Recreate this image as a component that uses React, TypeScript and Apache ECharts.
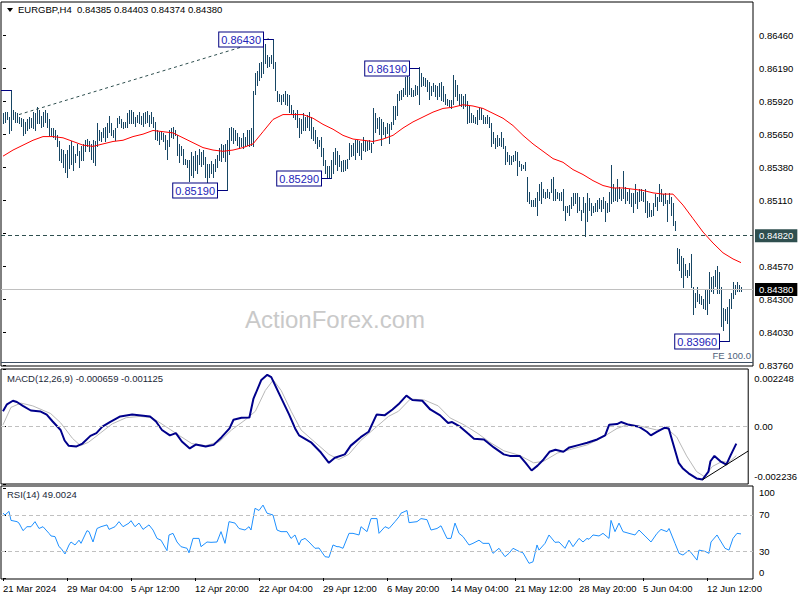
import React, { useEffect, useRef } from 'react';
import * as echarts from 'echarts';

const FONT = '"Liberation Sans", Arial, sans-serif';

// ---------- header / indicator values ----------
const symbolName = 'EURGBP,H4';
const lastOHLC = ['0.84385', '0.84403', '0.84374', '0.84380'];
const macdTitle = 'MACD(12,26,9) -0.000659 -0.001125';
const rsiTitle = 'RSI(14) 49.0024';
const watermark = 'ActionForex.com';

// ---------- price bars (H4), index 0 = 21 Mar 2024 ----------
const highs = [
  0.8582, 0.8583, 0.8583, 0.8579, 0.8601, 0.8585, 0.8583, 0.8582, 0.8579, 0.8578,
  0.8577, 0.8575, 0.8577, 0.8579, 0.8578, 0.8583, 0.8582, 0.8587, 0.8585, 0.8580,
  0.8583, 0.8585, 0.8582, 0.8577, 0.8570, 0.8570, 0.8568, 0.8564, 0.8559, 0.8553,
  0.8552, 0.8549, 0.8552, 0.8556, 0.8559, 0.8555, 0.8549, 0.8557, 0.8551, 0.8555,
  0.8557, 0.8560, 0.8561, 0.8559, 0.8557, 0.8560, 0.8559, 0.8574, 0.8568, 0.8567,
  0.8570, 0.8571, 0.8574, 0.8580, 0.8574, 0.8568, 0.8570, 0.8578, 0.8580, 0.8577,
  0.8575, 0.8575, 0.8582, 0.8585, 0.8585, 0.8583, 0.8579, 0.8581, 0.8583, 0.8580,
  0.8582, 0.8583, 0.8584, 0.8581, 0.8583, 0.8579, 0.8575, 0.8568, 0.8567, 0.8567,
  0.8566, 0.8564, 0.8560, 0.8568, 0.8570, 0.8571, 0.8568, 0.8564, 0.8557, 0.8555,
  0.8553, 0.8545, 0.8544, 0.8544, 0.8550, 0.8547, 0.8551, 0.8548, 0.8553, 0.8550,
  0.8552, 0.8546, 0.8541, 0.8541, 0.8543, 0.8541, 0.8545, 0.8548, 0.8554, 0.8557,
  0.8556, 0.8557, 0.8560, 0.8570, 0.8571, 0.8570, 0.8568, 0.8566, 0.8563, 0.8562,
  0.8566, 0.8563, 0.8568, 0.8568, 0.8570, 0.8600, 0.8615, 0.8617, 0.8623, 0.8624,
  0.8643, 0.8639, 0.8630, 0.8628, 0.8630, 0.8643, 0.8624, 0.8600, 0.8598, 0.8597,
  0.8598, 0.8600, 0.8598, 0.8597, 0.8589, 0.8585, 0.8582, 0.8585, 0.8578, 0.8577,
  0.8582, 0.8579, 0.8581, 0.8583, 0.8579, 0.8571, 0.8568, 0.8563, 0.8560, 0.8563,
  0.8554, 0.8544, 0.8539, 0.8539, 0.8544, 0.8550, 0.8554, 0.8551, 0.8548, 0.8543,
  0.8544, 0.8544, 0.8545, 0.8558, 0.8556, 0.8558, 0.8560, 0.8560, 0.8559, 0.8558,
  0.8563, 0.8560, 0.8559, 0.8560, 0.8558, 0.8586, 0.8582, 0.8578, 0.8579, 0.8577,
  0.8575, 0.8571, 0.8574, 0.8573, 0.8575, 0.8588, 0.8588, 0.8598, 0.8600, 0.8601,
  0.8603, 0.8612, 0.8613, 0.8612, 0.8603, 0.8601, 0.8605, 0.8604, 0.8620, 0.8615,
  0.8612, 0.8611, 0.8609, 0.8608, 0.8604, 0.8607, 0.8605, 0.8604, 0.8607, 0.8608,
  0.8604, 0.8598, 0.8594, 0.8593, 0.8593, 0.8613, 0.8609, 0.8605, 0.8598, 0.8598,
  0.8596, 0.8598, 0.8592, 0.8588, 0.8582, 0.8581, 0.8579, 0.8585, 0.8586, 0.8586,
  0.8581, 0.8579, 0.8581, 0.8579, 0.8574, 0.8567, 0.8562, 0.8564, 0.8562, 0.8567,
  0.8562, 0.8555, 0.8550, 0.8548, 0.8547, 0.8548, 0.8551, 0.8550, 0.8543, 0.8541,
  0.8540, 0.8542, 0.8530, 0.8518, 0.8511, 0.8511, 0.8513, 0.8518, 0.8524, 0.8526,
  0.8520, 0.8518, 0.8520, 0.8518, 0.8528, 0.8530, 0.8520, 0.8518, 0.8517, 0.8518,
  0.8520, 0.8506, 0.8506, 0.8507, 0.8514, 0.8517, 0.8517, 0.8517, 0.8514, 0.8503,
  0.8514, 0.8509, 0.8517, 0.8513, 0.8509, 0.8506, 0.8509, 0.8511, 0.8513, 0.8511,
  0.8514, 0.8510, 0.8509, 0.8518, 0.8540, 0.8524, 0.8521, 0.8528, 0.8522, 0.8520,
  0.8535, 0.8522, 0.8518, 0.8520, 0.8517, 0.8517, 0.8524, 0.8518, 0.8520, 0.8520,
  0.8518, 0.8520, 0.8510, 0.8509, 0.8503, 0.8509, 0.8516, 0.8514, 0.8524, 0.8520,
  0.8516, 0.8517, 0.8511, 0.8517, 0.8514, 0.8509, 0.8494, 0.8472, 0.8471, 0.8465,
  0.8464, 0.8459, 0.8454, 0.8460, 0.8467, 0.8440, 0.8435, 0.8440, 0.8434, 0.8433,
  0.8430, 0.8438, 0.8438, 0.8452, 0.8448, 0.8449, 0.8454, 0.8457, 0.8452, 0.8440,
  0.8423, 0.8422, 0.8424, 0.8430, 0.8435, 0.8444, 0.8442, 0.8444, 0.8442, 0.8440,
];
const lows = [
  0.8574, 0.8575, 0.8577, 0.8566, 0.8568, 0.8577, 0.8575, 0.8575, 0.8574, 0.8572,
  0.8564, 0.8566, 0.8568, 0.8570, 0.8571, 0.8570, 0.8568, 0.8574, 0.8574, 0.8571,
  0.8572, 0.8575, 0.8571, 0.8564, 0.8564, 0.8563, 0.8561, 0.8555, 0.8544, 0.8542,
  0.8538, 0.8534, 0.8530, 0.8537, 0.8541, 0.8536, 0.8542, 0.8548, 0.8538, 0.8544,
  0.8544, 0.8551, 0.8555, 0.8551, 0.8545, 0.8542, 0.8540, 0.8555, 0.8560, 0.8559,
  0.8563, 0.8559, 0.8563, 0.8567, 0.8564, 0.8563, 0.8560, 0.8571, 0.8574, 0.8571,
  0.8570, 0.8571, 0.8571, 0.8574, 0.8574, 0.8574, 0.8572, 0.8575, 0.8574, 0.8573,
  0.8572, 0.8574, 0.8575, 0.8572, 0.8574, 0.8571, 0.8561, 0.8560, 0.8557, 0.8561,
  0.8559, 0.8553, 0.8545, 0.8555, 0.8563, 0.8562, 0.8564, 0.8548, 0.8542, 0.8548,
  0.8541, 0.8541, 0.8538, 0.8527, 0.8532, 0.8530, 0.8536, 0.8533, 0.8541, 0.8539,
  0.8541, 0.8530, 0.8526, 0.8530, 0.8533, 0.8530, 0.8535, 0.8538, 0.8544, 0.8543,
  0.8546, 0.8543, 0.8519, 0.8549, 0.8560, 0.8558, 0.8560, 0.8556, 0.8554, 0.8555,
  0.8554, 0.8555, 0.8556, 0.8555, 0.8556, 0.8555, 0.8598, 0.8605, 0.8609, 0.8612,
  0.8615, 0.8623, 0.8620, 0.8621, 0.8623, 0.8619, 0.8601, 0.8592, 0.8592, 0.8590,
  0.8592, 0.8590, 0.8589, 0.8583, 0.8582, 0.8579, 0.8577, 0.8571, 0.8563, 0.8566,
  0.8568, 0.8568, 0.8571, 0.8568, 0.8562, 0.8560, 0.8558, 0.8554, 0.8555, 0.8547,
  0.8540, 0.8533, 0.8530, 0.8530, 0.8529, 0.8533, 0.8541, 0.8536, 0.8539, 0.8535,
  0.8535, 0.8536, 0.8537, 0.8545, 0.8547, 0.8548, 0.8545, 0.8550, 0.8548, 0.8545,
  0.8552, 0.8551, 0.8552, 0.8553, 0.8550, 0.8558, 0.8567, 0.8570, 0.8565, 0.8556,
  0.8565, 0.8563, 0.8566, 0.8558, 0.8569, 0.8573, 0.8577, 0.8581, 0.8593, 0.8594,
  0.8596, 0.8598, 0.8596, 0.8598, 0.8596, 0.8596, 0.8597, 0.8598, 0.8590, 0.8604,
  0.8605, 0.8604, 0.8600, 0.8594, 0.8597, 0.8600, 0.8596, 0.8594, 0.8596, 0.8593,
  0.8592, 0.8590, 0.8589, 0.8588, 0.8586, 0.8590, 0.8596, 0.8593, 0.8589, 0.8588,
  0.8586, 0.8588, 0.8574, 0.8575, 0.8575, 0.8575, 0.8574, 0.8573, 0.8577, 0.8577,
  0.8574, 0.8574, 0.8574, 0.8571, 0.8555, 0.8558, 0.8554, 0.8555, 0.8556, 0.8555,
  0.8554, 0.8541, 0.8543, 0.8541, 0.8541, 0.8543, 0.8544, 0.8532, 0.8539, 0.8536,
  0.8537, 0.8536, 0.8510, 0.8509, 0.8506, 0.8506, 0.8506, 0.8499, 0.8511, 0.8509,
  0.8514, 0.8513, 0.8514, 0.8513, 0.8518, 0.8511, 0.8511, 0.8513, 0.8511, 0.8511,
  0.8503, 0.8495, 0.8501, 0.8499, 0.8505, 0.8507, 0.8509, 0.8501, 0.8503, 0.8495,
  0.8501, 0.8482, 0.8494, 0.8503, 0.8499, 0.8501, 0.8502, 0.8502, 0.8505, 0.8502,
  0.8505, 0.8494, 0.8501, 0.8502, 0.8509, 0.8510, 0.8511, 0.8510, 0.8513, 0.8511,
  0.8513, 0.8509, 0.8511, 0.8509, 0.8506, 0.8501, 0.8509, 0.8505, 0.8510, 0.8511,
  0.8510, 0.8501, 0.8497, 0.8498, 0.8498, 0.8499, 0.8506, 0.8503, 0.8510, 0.8510,
  0.8507, 0.8509, 0.8494, 0.8509, 0.8499, 0.8491, 0.8487, 0.8460, 0.8454, 0.8448,
  0.8440, 0.8450, 0.8448, 0.8450, 0.8440, 0.8418, 0.8424, 0.8429, 0.8427, 0.8426,
  0.8423, 0.8422, 0.8418, 0.8427, 0.8437, 0.8435, 0.8441, 0.8435, 0.8435, 0.8408,
  0.8405, 0.8413, 0.8411, 0.8396, 0.8423, 0.8431, 0.8434, 0.8437, 0.8437, 0.8437,
];

// ---------- moving average (red), sampled [bar index, value] ----------
const maPoints = [
  [0, 0.8547], [5, 0.8552], [10, 0.8556], [15, 0.8560], [20, 0.8563], [25, 0.8563], [30, 0.8562],
  [35, 0.8559], [40, 0.8556], [45, 0.8555], [50, 0.8557], [55, 0.8559], [60, 0.8560], [65, 0.8563],
  [70, 0.8565], [75, 0.8568], [80, 0.8567], [85, 0.8566], [90, 0.8562], [95, 0.8558], [100, 0.8554],
  [105, 0.8552], [110, 0.8551], [115, 0.8552], [120, 0.8554], [125, 0.8557], [130, 0.8567], [135, 0.8577],
  [140, 0.8581], [145, 0.8581], [150, 0.8581], [155, 0.8578], [160, 0.8573], [165, 0.8569], [170, 0.8564],
  [175, 0.8561], [180, 0.8560], [185, 0.8559], [190, 0.8561], [195, 0.8564], [200, 0.8570], [205, 0.8575],
  [210, 0.8579], [215, 0.8583], [220, 0.8586], [225, 0.8587], [230, 0.8589], [235, 0.8588], [240, 0.8586],
  [245, 0.8582], [250, 0.8578], [255, 0.8572], [260, 0.8564], [265, 0.8557], [270, 0.8551], [275, 0.8545],
  [280, 0.8542], [285, 0.8536], [290, 0.8532], [295, 0.8527], [300, 0.8523], [305, 0.8521], [310, 0.8521],
  [315, 0.8520], [320, 0.8519], [325, 0.8517], [330, 0.8516], [335, 0.8516], [340, 0.8507], [345, 0.8496],
  [350, 0.8485], [355, 0.8476], [360, 0.8468], [365, 0.8463], [369, 0.8460],
];

// ---------- MACD main & signal ----------
const macdPoints = [
  [0, 0.00060], [2, 0.00087], [5, 0.00101], [7, 0.00096], [10, 0.00081], [14, 0.00063], [19, 0.00059],
  [22, 0.00047], [25, 0.00020], [29, -0.00013], [31, -0.00054], [33, -0.00074], [37, -0.00077],
  [40, -0.00066], [44, -0.00036], [47, -0.00025], [50, 0.0], [54, 0.00019], [59, 0.00040], [65, 0.00047],
  [74, 0.00040], [77, 0.00020], [80, -0.00013], [84, -0.00034], [87, -0.00025], [90, -0.00058],
  [94, -0.00085], [97, -0.00070], [102, -0.00077], [106, -0.00071], [110, -0.00041], [114, -0.00007],
  [116, 0.00027], [120, 0.00035], [124, 0.00036], [126, 0.00108], [130, 0.00182], [133, 0.00202],
  [135, 0.00193], [139, 0.00128], [144, 0.00047], [147, -0.00007], [149, -0.00034], [155, -0.00061],
  [160, -0.00101], [164, -0.00141], [167, -0.00121], [172, -0.00108], [175, -0.00074], [180, -0.00041],
  [184, -0.00020], [188, 0.00047], [192, 0.00044], [196, 0.00067], [199, 0.00087], [203, 0.00121],
  [206, 0.00104], [211, 0.00101], [215, 0.00067], [220, 0.00044], [224, 0.00014], [226, 0.00018],
  [230, 0.0], [234, -0.00027], [237, -0.00047], [242, -0.00050], [247, -0.00081], [252, -0.00108],
  [255, -0.00114], [260, -0.00114], [263, -0.00141], [266, -0.00171], [269, -0.00152], [272, -0.00128],
  [275, -0.00098], [278, -0.00090], [282, -0.00098], [285, -0.00081], [290, -0.00071], [294, -0.00063],
  [299, -0.00050], [303, -0.00034], [305, 0.00007], [309, 0.00010], [311, 0.00018], [315, 0.00007],
  [320, 0.0], [324, -0.00020], [326, -0.00034], [329, -0.00020], [333, -0.00004], [335, -0.00007],
  [337, -0.00061], [340, -0.00141], [342, -0.00162], [345, -0.00182], [349, -0.00202], [352, -0.00206],
  [355, -0.00175], [356, -0.00135], [358, -0.00114], [361, -0.00135], [364, -0.00148], [366, -0.00114],
  [369, -0.00066],
];
const signalPoints = [
  [0, 0.00007], [4, 0.00075], [9, 0.00092], [15, 0.00081], [24, 0.00051], [29, 0.00015], [35, -0.00046],
  [39, -0.00074], [43, -0.00061], [49, -0.00025], [55, 0.00011], [62, 0.00035], [69, 0.00040], [75, 0.00035],
  [82, 0.0], [89, -0.00036], [95, -0.00066], [102, -0.00074], [109, -0.00058], [115, -0.00013], [122, 0.00027],
  [127, 0.00060], [132, 0.00141], [136, 0.00182], [140, 0.00141], [145, 0.00060], [150, -0.00013],
  [157, -0.00061], [164, -0.00108], [169, -0.00128], [174, -0.00108], [180, -0.00054], [187, -0.00007],
  [194, 0.00040], [199, 0.00060], [205, 0.00108], [212, 0.00104], [219, 0.00081], [225, 0.00034],
  [232, 0.00007], [239, -0.00027], [245, -0.00061], [252, -0.00094], [260, -0.00112], [267, -0.00141],
  [272, -0.00135], [279, -0.00103], [285, -0.00090], [294, -0.00071], [302, -0.00040], [309, -0.00007],
  [315, 0.00010], [322, 0.0], [329, -0.00013], [334, -0.00007], [339, -0.00040], [344, -0.00114],
  [349, -0.00175], [353, -0.00195], [357, -0.00155], [362, -0.00135], [365, -0.00141], [369, -0.00113],
];
const macdTrend = [[352, -0.00207], [375, -0.00095]];

// ---------- RSI(14) ----------
const rsiPoints = [
  [0, 72], [1, 70], [3, 74], [4, 64], [7, 62.6], [8, 61], [10, 52.6], [12, 57], [14, 57], [16, 62.6],
  [18, 55], [20, 57], [23, 49.6], [24, 46.7], [26, 46], [28, 34.8], [29, 33], [31, 26.7], [33, 36.7],
  [34, 40], [36, 36.7], [38, 42], [39, 38.5], [42, 52.6], [43, 51.5], [45, 40], [47, 55], [49, 57],
  [52, 59], [53, 54], [56, 57], [58, 62.6], [60, 57], [63, 61], [64, 63.7], [66, 57], [68, 61], [70, 54],
  [73, 59], [75, 53.3], [77, 44], [79, 42], [82, 30.4], [83, 47.8], [85, 49.6], [87, 40], [89, 34.8],
  [92, 33], [93, 28], [95, 44], [98, 44], [99, 34.8], [102, 40], [104, 39.6], [107, 40], [109, 51.5],
  [111, 38.5], [113, 62.6], [116, 61], [118, 55], [121, 53.3], [123, 57], [124, 53.3], [126, 77.4],
  [128, 75], [130, 81], [132, 72], [135, 70], [137, 53.3], [139, 51.5], [142, 51.5], [144, 44],
  [146, 47.8], [148, 36.7], [149, 42], [151, 44], [153, 40], [156, 33], [158, 33.3], [161, 23.7],
  [163, 23], [165, 36.7], [167, 34.8], [168, 34.8], [170, 33], [173, 49.6], [175, 49.6], [178, 47.8],
  [179, 57], [182, 51.5], [184, 66], [187, 66], [188, 49.6], [191, 57], [193, 55], [196, 62.6], [198, 68],
  [199, 72], [202, 75], [203, 61.5], [207, 62.6], [209, 66], [212, 64.8], [214, 53.3], [217, 55], [219, 58],
  [222, 44], [224, 44], [226, 61], [228, 49.6], [230, 46], [233, 36.7], [235, 38.5], [238, 42], [240, 38.5],
  [243, 38.5], [245, 27.4], [248, 33], [251, 23.7], [253, 27.4], [255, 33], [258, 29.6], [260, 28],
  [263, 16.3], [265, 18], [267, 36.7], [268, 31], [271, 38.5], [273, 47.8], [276, 39.6], [278, 40],
  [281, 33], [283, 42], [285, 34.8], [288, 44], [290, 40], [292, 44], [293, 43], [295, 47.8], [298, 46.7],
  [300, 49.6], [303, 44], [304, 64], [306, 51.5], [308, 61], [310, 51.5], [313, 49.6], [316, 47.8],
  [318, 53.3], [321, 46.7], [324, 40], [327, 49.6], [329, 54], [332, 51.5], [333, 55], [336, 38.5],
  [338, 27.4], [340, 25.5], [343, 31], [345, 25.5], [347, 19.9], [348, 31], [351, 29.6], [353, 27.4],
  [354, 40], [357, 47.8], [358, 44], [361, 33], [363, 31], [365, 44], [367, 49.6], [369, 49.0],
];

// ---------- annotations ----------
const swingLabels = [
  { text: '', i: 4, price: 0.8601 },
  { text: '0.86430', i: 135, price: 0.8643 },
  { text: '0.85190', i: 112, price: 0.8519 },
  { text: '0.85290', i: 164, price: 0.8529 },
  { text: '0.86190', i: 208, price: 0.8619 },
  { text: '0.83960', i: 363, price: 0.8396 },
];
const trendLine = [[8, 0.8581], [133, 0.8643]];
const supportLevel = 0.8482;
const lastPrice = 0.8438;
const feLevel = 0.83785;
const macdLevels = [0];
const rsiLevels = [70, 30];

// ---------- axes ----------
const priceTicks = [0.8376, 0.8403, 0.8430, 0.8457, 0.8484, 0.8511, 0.8538, 0.8565, 0.8592, 0.8619, 0.8646];
const priceLabels = [0.8376, 0.8403, 0.8430, 0.8457, 0.8511, 0.8538, 0.8565, 0.8592, 0.8619, 0.8646];
const macdTicks = [-0.002236, 0, 0.002248];
const rsiTicks = [0, 30, 70, 100];
const timeTickIdx = [0, 32, 64, 96, 128, 160, 192, 224, 256, 288, 320, 352];
const timeLabels = [
  '21 Mar 2024', '29 Mar 04:00', '5 Apr 12:00', '12 Apr 20:00', '22 Apr 04:00', '29 Apr 12:00',
  '6 May 20:00', '14 May 04:00', '21 May 12:00', '28 May 20:00', '5 Jun 04:00', '12 Jun 12:00',
];

const BAR_COLOR = '#174664';
const LBL = { fontFamily: FONT, fontSize: 9.5, color: '#000' };

function buildOption() {
  const bars = highs.map((h, i) => [i, h, lows[i]]);
  const xBase = { type: 'value', min: -1, max: 375, axisLine: { show: false }, axisTick: { show: false }, axisLabel: { show: false }, splitLine: { show: false } };
  const yBase = { type: 'value', position: 'right', axisLine: { show: false }, splitLine: { show: false } };
  const levelLine = (vals: number[]) => ({
    silent: true, symbol: ['none', 'none'], precision: 6,
    lineStyle: { color: '#c0c0c0', type: [4, 3], width: 1 },
    label: { show: false },
    data: vals.map((v) => ({ yAxis: v })),
  });

  return {
    animation: false,
    backgroundColor: '#ffffff',
    textStyle: { fontFamily: FONT },
    grid: [
      { left: 1, top: 2, width: 752, height: 364, show: true, borderColor: '#000', borderWidth: 1, backgroundColor: 'transparent' },
      { left: 1, top: 369, width: 752, height: 115, show: true, borderColor: '#000', borderWidth: 1, backgroundColor: 'transparent' },
      { left: 1, top: 486, width: 752, height: 93, show: true, borderColor: '#000', borderWidth: 1, backgroundColor: 'transparent' },
    ],
    xAxis: [
      { ...xBase, gridIndex: 0 },
      { ...xBase, gridIndex: 1 },
      {
        ...xBase, gridIndex: 2,
        axisTick: { show: true, customValues: timeTickIdx, length: 3, lineStyle: { color: '#000' } },
        axisLabel: {
          show: true, customValues: timeTickIdx, align: 'left', margin: 4, ...LBL,
          formatter: (v: number) => timeLabels[timeTickIdx.indexOf(Math.round(v))] || '',
        },
      },
    ],
    yAxis: [
      {
        ...yBase, gridIndex: 0, min: 0.83755, max: 0.8673,
        axisTick: { show: true, customValues: priceTicks, length: 3, lineStyle: { color: '#000' } },
        axisLabel: { customValues: priceLabels, margin: 6, ...LBL, formatter: (v: number) => v.toFixed(5) },
      },
      {
        ...yBase, gridIndex: 1, min: -0.002236, max: 0.002248,
        axisTick: { show: true, customValues: macdTicks, length: 3, lineStyle: { color: '#000' } },
        axisLabel: {
          customValues: macdTicks, margin: 6, ...LBL,
          formatter: (v: number) => (Math.abs(v) < 1e-9 ? '0.00' : v > 0 ? `{t|${v.toFixed(6)}}` : `{b|${v.toFixed(6)}}`),
          rich: { t: { padding: [18, 0, 0, 0], ...LBL }, b: { padding: [0, 0, 16, 0], ...LBL } },
        },
      },
      {
        ...yBase, gridIndex: 2, min: -1.1, max: 102.2,
        axisTick: { show: true, customValues: rsiTicks, length: 3, lineStyle: { color: '#000' } },
        axisLabel: {
          customValues: rsiTicks, margin: 6, ...LBL,
          formatter: (v: number) => (v === 100 ? '{t|100}' : v === 0 ? '{b|0}' : String(v)),
          rich: { t: { padding: [10, 0, 0, 0], ...LBL }, b: { padding: [0, 0, 12, 0], ...LBL } },
        },
      },
    ],
    graphic: [
      { type: 'text', left: 245, top: 307, z: -10, silent: true, style: { text: watermark, font: `24px ${FONT}`, fill: '#c9c9c9' } },
      { type: 'polygon', shape: { points: [[7, 8], [13, 8], [10, 12]] }, style: { fill: '#000' } },
      { type: 'text', left: 18, top: 4, style: { text: `${symbolName}  ${lastOHLC.join(' ')}`, font: `9.5px ${FONT}`, fill: '#000' } },
      { type: 'text', left: 7, top: 373, style: { text: macdTitle, font: `9.5px ${FONT}`, fill: '#1b2838' } },
      { type: 'text', left: 7, top: 489, style: { text: rsiTitle, font: `9.5px ${FONT}`, fill: '#1b2838' } },
    ],
    series: [
      {
        type: 'custom', name: 'bars', xAxisIndex: 0, yAxisIndex: 0, clip: true, silent: true,
        data: bars, encode: { x: 0, y: [1, 2] },
        renderItem: (params: any, api: any) => {
          const i = api.value(0);
          const p1 = api.coord([i, api.value(1)]);
          const p2 = api.coord([i, api.value(2)]);
          const x = Math.round(p1[0]) + 0.5;
          return { type: 'line', shape: { x1: x, y1: Math.round(p1[1]), x2: x, y2: Math.round(p2[1]) + 1 }, style: { stroke: BAR_COLOR, lineWidth: 1 } };
        },
      },
      {
        type: 'line', name: 'MA', xAxisIndex: 0, yAxisIndex: 0, data: maPoints, showSymbol: false, silent: true,
        lineStyle: { color: '#ff0000', width: 1 },
        markLine: {
          silent: true, symbol: ['none', 'none'], precision: 6,
          data: [
            {
              yAxis: supportLevel, lineStyle: { color: '#2f4f4f', type: [4, 3], width: 1 },
              label: { show: true, position: 'end', distance: 2, formatter: supportLevel.toFixed(5), backgroundColor: '#2f4f4f', color: '#fff', padding: [2, 4, 1, 4], fontFamily: FONT, fontSize: 9.5 },
            },
            {
              yAxis: lastPrice, lineStyle: { color: '#c0c0c0', type: 'solid', width: 1 },
              label: { show: true, position: 'end', distance: 2, formatter: lastPrice.toFixed(5), backgroundColor: '#000', color: '#fff', padding: [2, 4, 1, 4], fontFamily: FONT, fontSize: 9.5 },
            },
            {
              yAxis: feLevel, lineStyle: { color: '#3d4f63', type: 'solid', width: 1 },
              label: { show: true, position: 'insideEndTop', distance: 2, formatter: 'FE 100.0', color: '#4f5f7a', fontFamily: FONT, fontSize: 9.5 },
            },
          ],
        },
      },
      {
        type: 'line', name: 'trend', xAxisIndex: 0, yAxisIndex: 0, data: trendLine, showSymbol: false, silent: true,
        lineStyle: { color: '#2f4f4f', type: [3, 3], width: 1 },
      },
      {
        type: 'custom', name: 'swings', xAxisIndex: 0, yAxisIndex: 0, clip: true, silent: true, z: 5,
        data: swingLabels.map((s) => [s.i, s.price]), encode: { x: 0, y: 1 },
        renderItem: (params: any, api: any) => {
          const s = swingLabels[params.dataIndex];
          const p = api.coord([s.i, s.price]);
          const x = Math.round(p[0]);
          const y = Math.round(p[1]) + 0.5;
          const children: any[] = [
            { type: 'line', shape: { x1: x - 10, y1: y, x2: x + 0.5, y2: y }, style: { stroke: '#000080', lineWidth: 1 } },
          ];
          if (s.text) {
            children.push({
              type: 'text', x: x - 10, y: y,
              style: {
                text: s.text, align: 'right', verticalAlign: 'middle', fill: '#2323b8',
                font: `11px ${FONT}`, backgroundColor: '#ffffff', borderColor: '#000080', borderWidth: 1, padding: [2, 2, 1, 2],
              },
            });
          }
          return { type: 'group', children };
        },
      },
      {
        type: 'line', name: 'signal', xAxisIndex: 1, yAxisIndex: 1, data: signalPoints, showSymbol: false, silent: true,
        lineStyle: { color: '#b8b8b8', width: 1 },
        markLine: levelLine(macdLevels),
      },
      {
        type: 'line', name: 'macd', xAxisIndex: 1, yAxisIndex: 1, data: macdPoints, showSymbol: false, silent: true,
        lineStyle: { color: '#00008b', width: 2 },
      },
      {
        type: 'line', name: 'macdTrend', xAxisIndex: 1, yAxisIndex: 1, data: macdTrend, showSymbol: false, silent: true,
        lineStyle: { color: '#000', width: 1 },
      },
      {
        type: 'line', name: 'rsi', xAxisIndex: 2, yAxisIndex: 2, data: rsiPoints, showSymbol: false, silent: true,
        lineStyle: { color: '#1e90ff', width: 1 },
        markLine: levelLine(rsiLevels),
      },
    ],
  };
}

export default function App() {
  const ref = useRef<HTMLDivElement>(null);
  useEffect(() => {
    if (!ref.current) return;
    const chart = echarts.init(ref.current, null, { renderer: 'svg', width: 800, height: 600 });
    chart.setOption(buildOption() as any);
    return () => chart.dispose();
  }, []);
  return <div ref={ref} style={{ position: 'fixed', left: 0, top: 0, width: 800, height: 600, background: '#fff' }} />;
}
